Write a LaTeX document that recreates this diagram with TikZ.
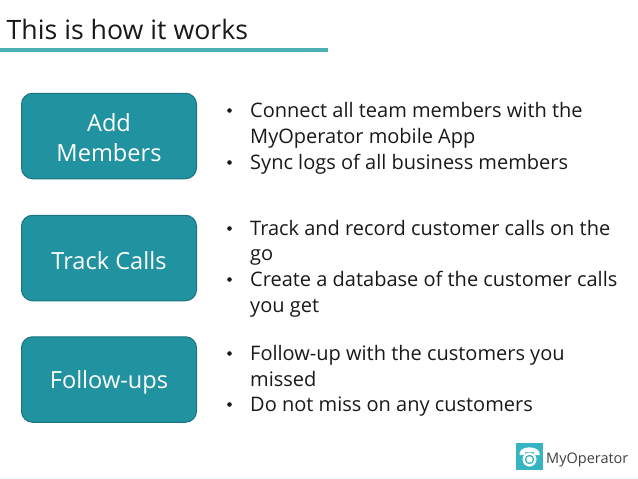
\documentclass[tikz,border=0pt]{standalone}
\usepackage{fontspec}
\setmainfont{Open Sans}
\definecolor{boxfill}{HTML}{21929F}
\definecolor{boxline}{HTML}{1B7480}
\definecolor{rulec}{HTML}{4DB0B5}
\definecolor{logoc}{HTML}{35B5C2}
\newcommand{\boxstrut}[1]{\rule{0pt}{#1}}
\tikzset{
 stepbox/.style={draw=boxline,line width=1pt,fill=boxfill,rounded corners=11pt,minimum width=175pt,minimum height=85.5pt,text=white,align=center,font=\fontsize{23.6}{30}\selectfont,inner sep=0pt},
 bullettext/.style={anchor=base west,inner sep=0pt,font=\fontsize{20}{24}\selectfont,text=black!90},
}
\begin{document}
\begin{tikzpicture}[x=1pt,y=-1pt]
\useasboundingbox (0,0) rectangle (638,479);
\node[anchor=base west,inner sep=0pt,font=\fontsize{26.7}{30}\selectfont,text=black!90] (title) at (6.5,39) {This is how it works};
\fill[rulec] (0,48) rectangle (327.5,51.5);
\node[stepbox] (add) at (109,136) {\boxstrut{20.4pt}Add\\Members};
\node[stepbox] (track) at (109,258) {\boxstrut{22.4pt}Track Calls};
\node[stepbox] (follow) at (109,379.5) {\boxstrut{24pt}Follow-ups};
\foreach \n/\y/\t in {a/117.5/Connect all team members with the,b/143.5/MyOperator mobile App,c/169.5/Sync logs of all business members,
 d/235.5/Track and record customer calls on the,e/260.5/go,f/286.5/Create a database of the customer calls,g/312.5/you get,
 h/360.5/Follow-up with the customers you,i/386.5/missed,j/411.5/Do not miss on any customers}
  \node[bullettext] (\n) at (250,\y) {\t};
\foreach \y in {110.5,162.5,228.5,279.5,353.5,404.5}
  \fill[black!90] (229.5,\y) circle (2.3);
\fill[logoc] (516,443) rectangle (543,470);
\begin{scope}
 \fill[white] (519.5,453) .. controls (521,445.5) and (538,445.5) .. (539.5,453) -- (539.5,455) -- (534,455) -- (534,452) -- (525,452) -- (525,455) -- (519.5,455) -- cycle;
 \fill[white] (529.5,459.5) circle (7);
 \fill[logoc] (529.5,459.5) circle (4.7);
 \fill[white] (529.5,459.5) circle (3.2);
\end{scope}
\node[anchor=base west,inner sep=0pt,font=\fontsize{14.5}{16}\selectfont,text=black!75] (logo) at (546,463) {MyOperator};
\fill[logoc!12] (0,477.5) rectangle (638,479);
\end{tikzpicture}
\end{document}
